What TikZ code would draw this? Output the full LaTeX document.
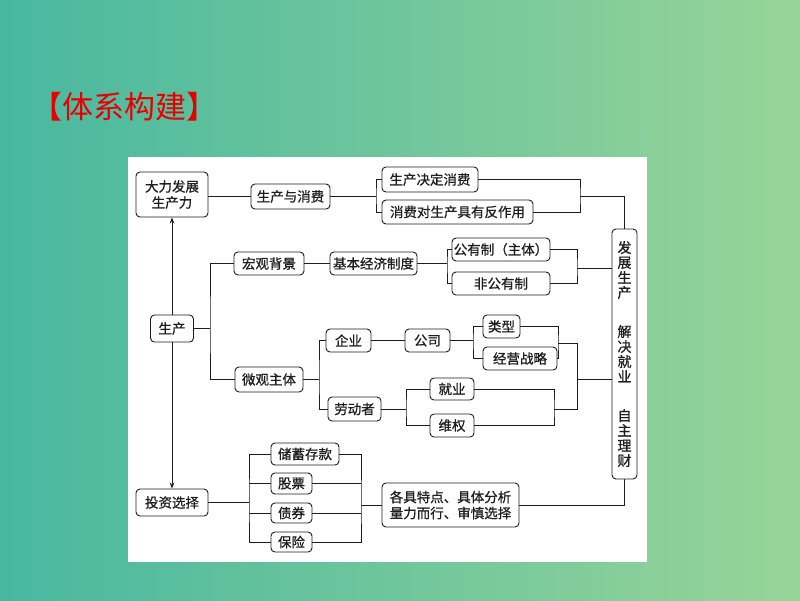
\documentclass[tikz,border=0pt]{standalone}
\usepackage{fontspec}
\newfontfamily\cjk[FakeBold=0.8]{Noto Sans CJK SC}
\newfontfamily\cjktitle{Noto Sans CJK SC}
\usetikzlibrary{arrows.meta}
\definecolor{bgleft}{RGB}{72,184,160}
\definecolor{bgright}{RGB}{152,212,152}
\definecolor{titlered}{RGB}{232,0,0}
\definecolor{ink}{RGB}{30,30,30}
\tikzset{
  box/.style={draw=ink, line width=0.9pt, rounded corners=4pt, fill=white,
    font=\cjk\fontsize{13.5}{16}\selectfont, text=ink, inner sep=0pt, align=center},
  link/.style={draw=ink, line width=0.9pt},
  arr/.style={link, -{Stealth[length=6pt,width=4.5pt]}}
}
\begin{document}
\begin{tikzpicture}[x=1pt,y=-1pt]
\useasboundingbox (0,0) rectangle (800,600);
\shade[left color=bgleft, right color=bgright] (0,0) rectangle (800,600);
\fill[white] (128,157) rectangle (647,562);
\node[font=\cjktitle\fontsize{31}{33}\selectfont, text=titlered] (title) at (124,107) {【体系构建】};

% nodes
\node[box, minimum width=72, minimum height=45] (dl) at (172,194.5) {大力发展\\生产力};
\node[box, minimum width=79, minimum height=25] (sx) at (290.5,196.5) {生产与消费};
\node[box, minimum width=96, minimum height=25] (jd) at (430,179.5) {生产决定消费};
\node[box, minimum width=151, minimum height=24] (fz) at (457.5,212) {消费对生产具有反作用};
\node[box, minimum width=25, minimum height=250, font=\cjk\fontsize{14}{15}\selectfont] (vb) at (624.5,354)
  {发\\展\\生\\产\\[24pt]解\\决\\就\\业\\[24pt]自\\主\\理\\财};
\node[box, minimum width=70, minimum height=23] (hg) at (269,263.5) {宏观背景};
\node[box, minimum width=87, minimum height=23] (jb) at (373.5,263.5) {基本经济制度};
\node[box, minimum width=98, minimum height=23] (gy) at (501,249.5) {公有制（主体）};
\node[box, minimum width=98, minimum height=23] (fg) at (501,283.5) {非公有制};
\node[box, minimum width=43, minimum height=27] (sc) at (172,328.5) {生产};
\node[box, minimum width=68, minimum height=25] (wg) at (269,379.5) {微观主体};
\node[box, minimum width=45, minimum height=23] (qy) at (348.5,340.5) {企业};
\node[box, minimum width=53, minimum height=24] (ld) at (354.5,409) {劳动者};
\node[box, minimum width=45, minimum height=23] (gs) at (427.5,340.5) {公司};
\node[box, minimum width=37, minimum height=23] (lx) at (501.5,326.5) {类型};
\node[box, minimum width=74, minimum height=23] (jy) at (520,358.5) {经营战略};
\node[box, minimum width=44, minimum height=22] (jiuye) at (452,389) {就业};
\node[box, minimum width=44, minimum height=23] (wq) at (452,425.5) {维权};
\node[box, minimum width=72, minimum height=27] (tz) at (172,502.5) {投资选择};
\node[box, minimum width=68, minimum height=22] (cx) at (305,454) {储蓄存款};
\node[box, minimum width=41, minimum height=21] (gp) at (291.5,483.5) {股票};
\node[box, minimum width=41, minimum height=20] (zq) at (291.5,513) {债券};
\node[box, minimum width=41, minimum height=20] (bx) at (291.5,542) {保险};
\node[box, minimum width=137, minimum height=44] (gj) at (450.5,505) {各具特点、具体分析\\量力而行、审慎选择};

% junction coordinates
\coordinate (b1) at (376,196.5);
\coordinate (r1) at (580,196);
\coordinate (b2) at (447,263.5);
\coordinate (r2) at (577,268);
\coordinate (b3) at (210,328.5);
\coordinate (b4) at (319,379.5);
\coordinate (b5) at (473,340.5);
\coordinate (r5) at (558,343);
\coordinate (b6) at (406,409);
\coordinate (r6) at (554,409);
\coordinate (j1) at (577,343);
\coordinate (j2) at (577,409);
\coordinate (j3) at (577,379);
\coordinate (b7) at (249,502.5);
\coordinate (r7) at (361,505);

% connectors
\draw[link] (sx.west) -- (sx.west -| dl.east);
\draw[link] (sx.east) -- (b1);
\draw[link] (jd.west) -| (b1) |- (fz.west);
\draw[link] (jd.east) -| (r1) |- (fz.east);
\draw[link] (r1) -| (vb.north);

\draw[link] (hg.east) -- (jb.west);
\draw[link] (jb.east) -- (b2);
\draw[link] (gy.west) -| (b2) |- (fg.west);
\draw[link] (gy.east) -| (r2) |- (fg.east);
\draw[link] (r2) -- (r2 -| vb.west);

\draw[link] (sc.east) -- (b3);
\draw[link] (hg.west) -| (b3) |- (wg.west);
\draw[arr] (sc.north) -- (dl.south);
\draw[arr] (sc.south) -- (tz.north);

\draw[link] (wg.east) -- (b4);
\draw[link] (qy.west) -| (b4) |- (ld.west);
\draw[link] (qy.east) -- (gs.west);
\draw[link] (gs.east) -- (b5);
\draw[link] (lx.west) -| (b5) |- (jy.west);
\draw[link] (lx.east) -| (r5) |- (jy.east);
\draw[link] (ld.east) -- (b6);
\draw[link] (jiuye.west) -| (b6) |- (wq.west);
\draw[link] (jiuye.east) -| (r6) |- (wq.east);
\draw[link] (r5) -- (j1) -- (j2) -- (r6);
\draw[link] (j3) -- (j3 -| vb.west);

\draw[link] (tz.east) -- (b7);
\draw[link] (cx.west) -| (b7) |- (bx.west);
\draw[link] (gp.west) -- (gp.west -| b7);
\draw[link] (zq.west) -- (zq.west -| b7);
\draw[link] (cx.east) -| (r7) |- (bx.east);
\draw[link] (gp.east) -- (gp.east -| r7);
\draw[link] (zq.east) -- (zq.east -| r7);
\draw[link] (r7) -- (r7 -| gj.west);
\draw[link] (gj.east) -| (vb.south);
\end{tikzpicture}
\end{document}
